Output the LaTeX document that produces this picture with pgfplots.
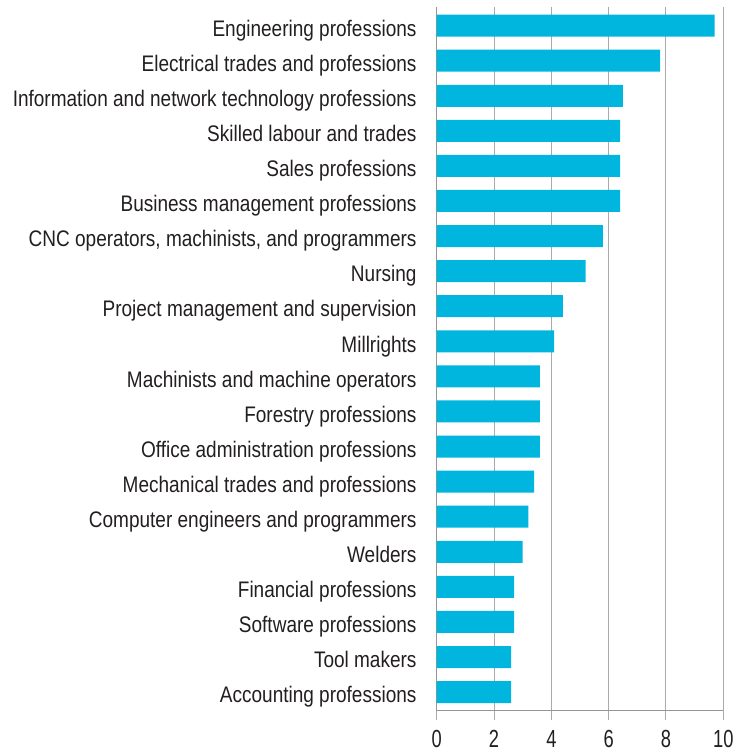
\documentclass[border=0pt]{standalone}
\usepackage{pgfplots}
\pgfplotsset{compat=1.18}
\usepackage{fontspec}
\setmainfont{Liberation Sans}[FakeStretch=0.845]
\newfontfamily\tickfont{Liberation Sans}[FakeStretch=0.74]
\definecolor{barblue}{RGB}{0,182,222}
\definecolor{gridgrey}{RGB}{170,170,170}
\definecolor{axisgrey}{RGB}{150,150,150}
\definecolor{txt}{RGB}{35,31,32}
\begin{document}
\begin{tikzpicture}
\begin{axis}[
    scale only axis,
    width=286.6pt,
    height=703.7pt,
    xbar,
    bar width=22pt,
    xmin=0, xmax=10,
    ymin=-0.53, ymax=19.53,
    y dir=reverse,
    axis x line=bottom,
    axis y line=left,
    axis line style={axisgrey, line width=1.4pt, -},
    xtick={0,2,4,6,8,10},
    xmajorgrids,
    grid style={gridgrey, line width=1pt},
    xtick style={gridgrey, line width=1pt},
    tick align=outside,
    major tick length=9pt,
    ytick={0,...,19},
    ytick style={draw=none},
    yticklabels={
      Engineering professions,
      Electrical trades and professions,
      Information and network technology professions,
      Skilled labour and trades,
      Sales professions,
      Business management professions,
      {CNC operators, machinists, and programmers},
      Nursing,
      Project management and supervision,
      Millrights,
      Machinists and machine operators,
      Forestry professions,
      Office administration professions,
      Mechanical trades and professions,
      Computer engineers and programmers,
      Welders,
      Financial professions,
      Software professions,
      Tool makers,
      Accounting professions},
    ticklabel style={text=txt},
    yticklabel style={font=\fontsize{22.5}{22.5}\selectfont, anchor=base east, inner sep=0pt, xshift=-11pt, yshift=-10.7pt},
    xticklabel style={font=\tickfont\fontsize{24.7}{24.7}\selectfont, anchor=base, inner sep=0pt, yshift=-28pt},
    /pgf/number format/assume math mode=true,
]
\addplot[fill=barblue, draw=none] coordinates {
(9.7,0)
(7.8,1)
(6.5,2)
(6.4,3)
(6.4,4)
(6.4,5)
(5.8,6)
(5.2,7)
(4.4,8)
(4.1,9)
(3.6,10)
(3.6,11)
(3.6,12)
(3.4,13)
(3.2,14)
(3.0,15)
(2.7,16)
(2.7,17)
(2.6,18)
(2.6,19)
};
\end{axis}
\path[use as bounding box] (current axis.south west) ++(-436.7pt,-43.3pt) rectangle ++(749pt,754pt);
\end{tikzpicture}
\end{document}
